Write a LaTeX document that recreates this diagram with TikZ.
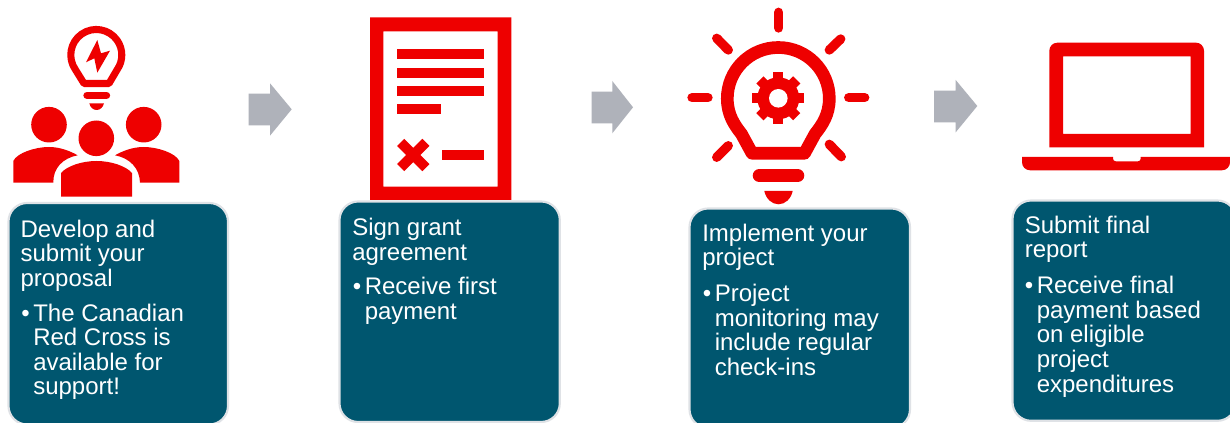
\documentclass[tikz,border=0pt]{standalone}
\usepackage{fontspec}
\setmainfont{Liberation Sans}
\definecolor{rcred}{HTML}{EE0000}
\definecolor{cardfill}{HTML}{00566F}
\definecolor{cardedge}{HTML}{DFE2E6}
\definecolor{arrowgrey}{HTML}{AFB2BA}
\tikzset{x=0.75pt,y=-0.75pt,
 card/.style={fill=cardfill,draw=cardedge,line width=1.6pt,rounded corners=14pt},
 txt/.style={text=white,font=\fontsize{18pt}{18.5pt}\selectfont,anchor=base west,inner sep=0pt,yshift=-0.6pt},
 btxt/.style={txt,yshift=-0.5pt},
 redl/.style={draw=rcred,line cap=round,line join=round},
 arr/.style={fill=arrowgrey,draw=none}}
\begin{document}
\begin{tikzpicture}
\useasboundingbox (0,0) rectangle (1230,423);
\fill[white] (0,0) rectangle (1230,423);
\begin{scope}
\clip (0,0) rectangle (1230,423);
% cards
\path[card] (8.5,203) rectangle (228,424.5);
\path[card] (339.5,201.5) rectangle (559.8,422);
\path[card] (689.5,208.5) rectangle (910,428);
\path[card] (1012.5,200.5) rectangle (1236,420.8);
\end{scope}
% text 1
\node[txt] (a1) at (20.3,236.7) {Develop and};
\node[txt] (a2) at (20.3,261) {submit your};
\node[txt] (a3) at (20.3,285.7) {proposal};
\node[btxt] (a4) at (21,320) {•};
\node[btxt] (a5) at (33,320) {The Canadian};
\node[btxt] (a6) at (33,344.5) {Red Cross is};
\node[btxt] (a7) at (33,369) {available for};
\node[txt] (a8) at (33,394) {support!};
% text 2
\node[txt] (b1) at (352,235) {Sign grant};
\node[txt] (b2) at (352,259.5) {agreement};
\node[btxt] (b3) at (352.5,293.5) {•};
\node[btxt] (b4) at (364.5,293.5) {Receive first};
\node[btxt] (b5) at (364.5,318) {payment};
% text 3
\node[txt] (c1) at (702,240.7) {Implement your};
\node[txt] (c2) at (702,265.2) {project};
\node[btxt] (c3) at (702.5,300) {•};
\node[btxt] (c4) at (714.5,300) {Project};
\node[btxt] (c5) at (714.5,325) {monitoring may};
\node[btxt] (c6) at (714.5,349.5) {include regular};
\node[btxt] (c7) at (714.5,374) {check-ins};
% text 4
\node[txt] (d1) at (1024.5,232.5) {Submit final};
\node[txt] (d2) at (1024.5,257) {report};
\node[btxt] (d3) at (1024.5,292) {•};
\node[btxt] (d4) at (1036.5,292) {Receive final};
\node[btxt] (d5) at (1036.5,317) {payment based};
\node[btxt] (d6) at (1036.5,341.5) {on eligible};
\node[btxt] (d7) at (1036.5,366) {project};
\node[btxt] (d8) at (1036.5,391) {expenditures};
% arrows
\fill[arr] (248.7,93.7) -- (270,93.7) -- (270,83.3) -- (291.7,109.3) -- (270,135.7) -- (270,125.3) -- (248.7,125.3) -- cycle;
\fill[arr] (591.7,91.7) -- (612.3,91.7) -- (612.3,81) -- (633,107.3) -- (612.3,133.3) -- (612.3,123.3) -- (591.7,123.3) -- cycle;
\fill[arr] (934,90.7) -- (955.7,90.7) -- (955.7,80) -- (977.3,106) -- (955.7,132.3) -- (955.7,122.3) -- (934,122.3) -- cycle;
% icon 1: bulb + people
\draw[rcred,line width=5.3pt,line join=round] (84,83.5) -- (75.4,69.6) arc[start angle=145,end angle=395,radius=25.5] -- (109,83.5) -- cycle;
\fill[rcred] (97.3,40) -- (86,62.3) -- (94.3,58.3) -- (97.3,72.7) -- (110,50.7) -- (101,53.3) -- cycle;
\draw[rcred,line width=5.5pt,line cap=round] (87,95.3) -- (106.5,95.3);
\fill[rcred] (89.3,103.3) -- (104,103.3) .. controls (103,107.5) and (100,110) .. (96.6,110) .. controls (93.2,110) and (90.3,107.5) .. (89.3,103.3) -- cycle;
\fill[rcred] (49,124.7) circle (17.8);
\fill[rcred] (143.7,124.7) circle (17.8);
\fill[rcred] (96.3,138.3) circle (17.8);
\fill[rcred] (13.3,182.7) -- (13.3,161) .. controls (17,153) and (35,147) .. (49,147) .. controls (60,147) and (70,151) .. (77.7,155.3) .. controls (63,158) and (53,168) .. (53.3,182.7) -- cycle;
\fill[rcred] (179.3,182.7) -- (179.3,161) .. controls (175.6,153) and (157.6,147) .. (143.6,147) .. controls (132.6,147) and (122.6,151) .. (115,155.3) .. controls (129.6,158) and (139.6,168) .. (140,182.7) -- cycle;
\fill[rcred] (61,196.7) -- (61,173) .. controls (67,166) and (82,161) .. (96.5,161) .. controls (111,161) and (126,166) .. (132,173) -- (132,196.7) -- cycle;
% icon 2: document
\fill[rcred,even odd rule] (370,17.5) rectangle (511.3,200) (383.3,31.3) rectangle (497.7,186.7);
\fill[rcred] (397,49) rectangle (484,59);
\fill[rcred] (397,68) rectangle (484,78);
\fill[rcred] (397,86) rectangle (484,96);
\fill[rcred] (397,104) rectangle (441,114);
\fill[rcred] (442,150) rectangle (484,160);
\draw[rcred,line width=7.5pt] (400.7,142.4) -- (425.9,167.6) (425.9,142.4) -- (400.7,167.6);
% icon 3: bulb
\draw[rcred,line width=9.5pt,line join=round] (752,153.3) -- (741.5,134) .. controls (734.5,125) and (727.3,115) .. (727.3,98.5) arc[start angle=180,end angle=360,radius=51] .. controls (829.3,115) and (822,125) .. (815,134) -- (804.5,153.3) -- cycle;
\begin{scope}[redl,line width=7pt]
\draw (778.7,12.3) -- (778.7,28);
\draw (716.7,38.3) -- (728.3,50);
\draw (840.7,39) -- (829.3,50);
\draw (692,97.7) -- (708,97.7);
\draw (848.7,97.7) -- (864.7,97.7);
\draw (728.3,145.7) -- (716.7,157.3);
\draw (829.3,144.3) -- (841.3,156.7);
\end{scope}
\draw[redl,line width=10pt] (759.4,175.7) -- (797.6,175.7);
\fill[rcred] (764.3,191) -- (792.7,191) .. controls (791,199) and (785,204.3) .. (778.5,204.3) .. controls (772,204.3) and (766,199) .. (764.3,191) -- cycle;
% gear
\fill[rcred] (778.3,98.3) circle (21);
\begin{scope}[shift={(778.3,98.3)}]
\foreach \a in {0,45,...,315} \draw[rcred,line width=7.6pt,line cap=butt] (\a:18) -- (\a:26);
\fill[white] (0,0) circle (9.3);
\end{scope}
% icon 4: laptop
\fill[rcred,even odd rule] (1049.3,147.3) [rounded corners=6pt] -- (1049.3,42.7) -- (1204,42.7) [sharp corners] -- (1204,147.3) -- cycle (1063,56.3) rectangle (1190.7,134);
\fill[rcred] (1022,157) -- (1113,157) [rounded corners=2pt] -- (1113,161.3) -- (1140.7,161.3) [sharp corners] -- (1140.7,157) -- (1230,157) [rounded corners=6pt] -- (1230,170.3) -- (1022,170.3) [sharp corners] -- cycle;
\end{tikzpicture}
\end{document}
